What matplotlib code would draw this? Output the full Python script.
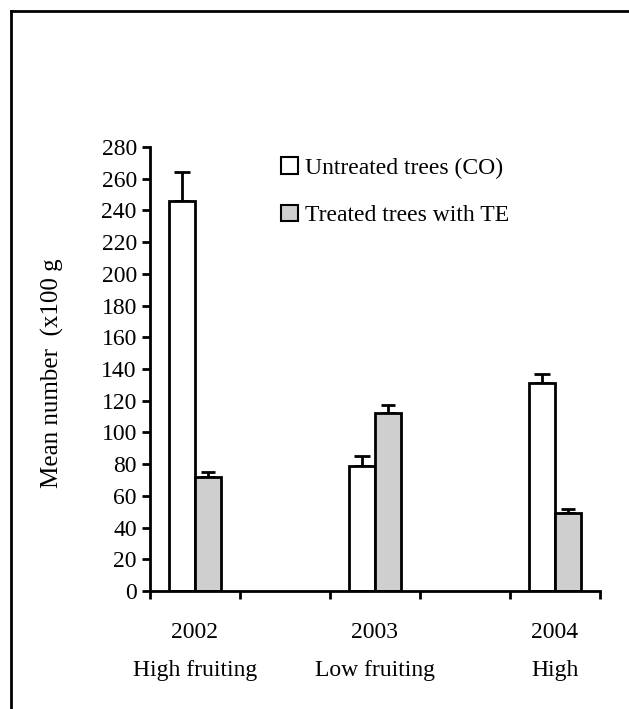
import matplotlib
matplotlib.use("Agg")
import matplotlib.pyplot as plt
from matplotlib.lines import Line2D
from matplotlib.patches import Patch
import numpy as np

years = ["2002", "2003", "2004"]
seasons = ["High fruiting", "Low fruiting", "High"]
untreated = [246, 79, 131]
untreated_err = [18, 6, 6]
treated = [72, 112, 49]
treated_err = [3, 5, 3]
y_ticks = list(range(0, 281, 20))

plt.rcParams["font.family"] = ["Liberation Serif", "DejaVu Serif"]

fig = plt.figure(figsize=(6.29, 7.09), dpi=100)
ax = fig.add_axes([150 / 629, 1 - 591 / 709, 450 / 629, 444 / 709])

x = np.arange(len(years)) * 2
w = 0.29
grey = "#cfcfcf"
ax.bar(x - w / 2, untreated, w, color="white", edgecolor="black", linewidth=2, zorder=2)
ax.bar(x + w / 2, treated, w, color=grey, edgecolor="black", linewidth=2, zorder=2)
ax.errorbar(x - w / 2, untreated, yerr=[[0] * 3, untreated_err], fmt="none",
            ecolor="black", elinewidth=2, capsize=6, capthick=2, zorder=1)
ax.errorbar(x + w / 2, treated, yerr=[[0] * 3, treated_err], fmt="none",
            ecolor="black", elinewidth=2, capsize=5, capthick=2, zorder=1)

ax.set_xlim(-0.5, 4.5)
ax.set_ylim(0, 280)
ax.set_yticks(y_ticks)
ax.tick_params(axis="y", labelsize=17, width=2, length=6, direction="out")
ax.set_xticks(np.arange(-0.5, 4.6, 1.0))
ax.set_xticklabels([])
ax.set_xticks(x, [f"{y}\n{s}" for y, s in zip(years, seasons)], minor=True)
ax.tick_params(axis="x", which="major", width=2, length=6, direction="out")
ax.tick_params(axis="x", which="minor", length=0, labelsize=17, pad=22)
for lab in ax.get_xticklabels(minor=True):
    lab.set_linespacing(2.1)

for s in ["top", "right"]:
    ax.spines[s].set_visible(False)
for s in ["left", "bottom"]:
    ax.spines[s].set_linewidth(2)

ax.set_ylabel("Mean number  (x100 g", fontsize=18)
ax.yaxis.set_label_coords(-0.19, 0.49)

handles = [Patch(facecolor="white", edgecolor="black", linewidth=1.5),
           Patch(facecolor=grey, edgecolor="black", linewidth=1.5)]
fig.legend(handles, ["Untreated trees (CO)", "Treated trees with TE"],
           loc="upper left", bbox_to_anchor=(272 / 629, 1 - 148 / 709),
           frameon=False, fontsize=17, handlelength=0.7, handleheight=0.7,
           handletextpad=0.3, labelspacing=1.1, borderaxespad=0)

# outer frame (left and top edges visible)
fig.add_artist(Line2D([11 / 629, 11 / 629], [0, 1 - 11 / 709], color="black", linewidth=2))
fig.add_artist(Line2D([11 / 629, 1], [1 - 11 / 709, 1 - 11 / 709], color="black", linewidth=2))

fig.savefig("out.png", dpi=100)
